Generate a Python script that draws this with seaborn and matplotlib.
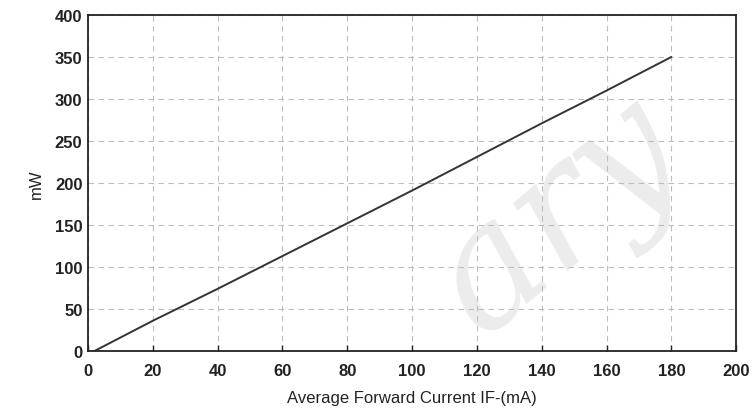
import matplotlib
matplotlib.use("Agg")
import matplotlib.pyplot as plt
import seaborn as sns
import pandas as pd

current_ma = [2, 20, 40, 60, 80, 100, 120, 140, 160, 180]
power_mw = [0, 36, 74, 113, 152, 191, 231, 271, 310, 350]
x_ticks = [0, 20, 40, 60, 80, 100, 120, 140, 160, 180, 200]
y_ticks = [0, 50, 100, 150, 200, 250, 300, 350, 400]

sns.set_theme(style="white")
plt.rcParams['font.family'] = ['Liberation Sans', 'DejaVu Sans']

df = pd.DataFrame({"current": current_ma, "power": power_mw})

fig = plt.figure(figsize=(7.55, 4.10), dpi=100)
ax = fig.add_axes([0.1166, 0.1415, 0.8584, 0.8195])

# faint watermark behind everything
fig.text(0.74, 0.47, "ary", fontsize=120, color="#ececec", rotation=40,
         family="DejaVu Serif", style="italic", ha="center", va="center", zorder=-1)
ax.set_facecolor("none")

sns.lineplot(data=df, x="current", y="power", ax=ax, color="#333333", linewidth=1.4)

ax.set_xlim(0, 200)
ax.set_ylim(0, 400)
ax.set_xticks(x_ticks)
ax.set_yticks(y_ticks)
ax.set_xticklabels([str(t) for t in x_ticks], fontsize=12, fontweight="bold", color="#222222")
ax.set_yticklabels([str(t) for t in y_ticks], fontsize=12, fontweight="bold", color="#222222")
ax.grid(True, color="#bdbdbd", linestyle=(0, (5, 4)), linewidth=0.8)
ax.tick_params(axis="x", direction="in", length=4, width=1, color="#222222", pad=9, top=False, bottom=True)
ax.tick_params(axis="y", length=0, pad=4)
for s in ax.spines.values():
    s.set_color("#222222")
    s.set_linewidth(1.3)

ax.set_xlabel("Average Forward Current IF-(mA)", fontsize=12, color="#222222", labelpad=8)
ax.set_ylabel("mW", fontsize=12, color="#222222", labelpad=8)

fig.savefig("out.png", dpi=100)
